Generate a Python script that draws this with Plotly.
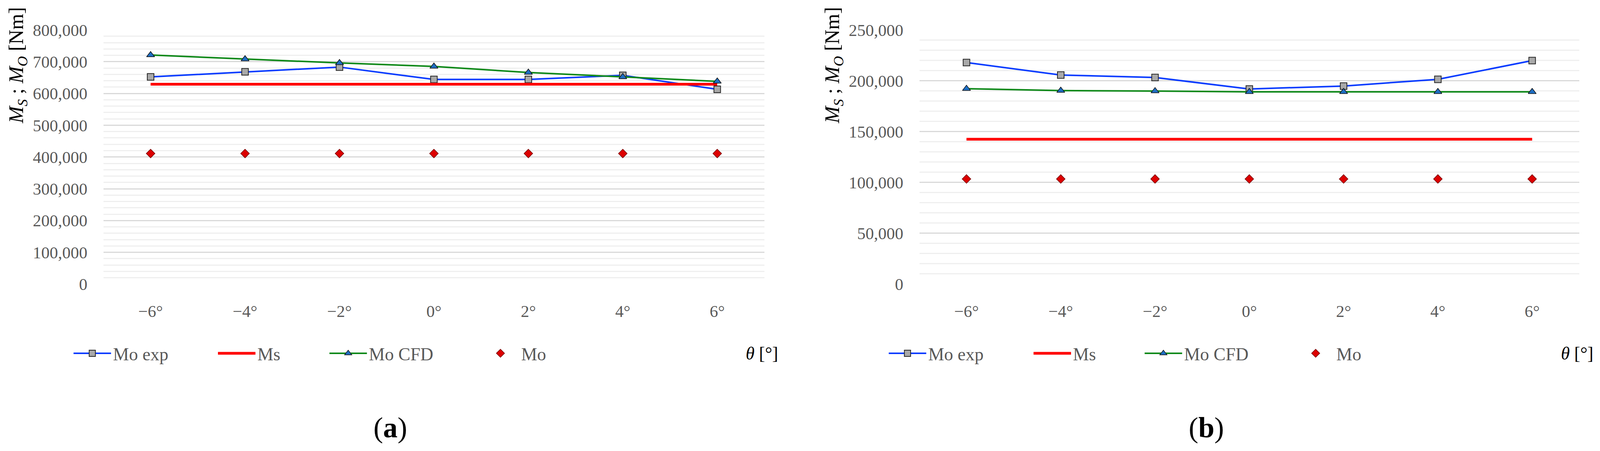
import plotly.graph_objects as go

# reference picture size; the figure itself follows the window width
W, H = 4276, 1154

# pitch angle [deg]
theta = [-6, -4, -2, 0, 2, 4, 6]
theta_labels = ["\u22126°", "\u22124°", "\u22122°", "0°", "2°", "4°", "6°"]

# panel (a)
mo_exp_a = [652000, 668000, 683000, 644000, 644000, 657000, 613000]
ms_a = [629000, 629000, 629000, 629000, 629000, 629000, 629000]
mo_cfd_a = [721000, 708000, 696000, 685000, 666000, 652000, 638000]
mo_a = [411000, 411000, 411000, 411000, 411000, 411000, 411000]

# panel (b)
mo_exp_b = [217900, 205600, 203200, 191900, 194800, 201400, 219800]
ms_b = [142500, 142500, 142500, 142500, 142500, 142500, 142500]
mo_cfd_b = [192200, 190300, 189900, 189100, 189100, 189100, 189100]
mo_b = [103400, 103400, 103400, 103400, 103400, 103400, 103400]

series_names = ["Mo exp", "Ms", "Mo CFD", "Mo"]

SERIF = "Liberation Serif"
GREY = "#595959"
BLUE = "#0a3cff"
RED = "#ff0000"
GREEN = "#10891a"


# picture pixels -> paper fractions (page body has an 8px margin)
def px(x):
    return (x - 8) / (W - 16)


def py(y):
    return 1 - (y - 8) / H


fig = go.Figure()


def add_panel(xa, ya, exp, ms, cfd, mo, legends):
    fig.add_trace(go.Scatter(
        x=theta, y=exp, name=series_names[0], mode="lines+markers",
        line=dict(color=BLUE, width=4),
        marker=dict(symbol="square", size=17, color="#a9a9a9",
                    line=dict(color="#262626", width=2)),
        xaxis=xa, yaxis=ya, legend=legends[0]))
    fig.add_trace(go.Scatter(
        x=theta, y=ms, name=series_names[1], mode="lines",
        line=dict(color=RED, width=7),
        xaxis=xa, yaxis=ya, legend=legends[1]))
    fig.add_trace(go.Scatter(
        x=theta, y=cfd, name=series_names[2], mode="lines+markers",
        line=dict(color=GREEN, width=4),
        marker=dict(symbol="triangle-up", size=18, color="#1f6fc4",
                    line=dict(color="#111111", width=1.5)),
        xaxis=xa, yaxis=ya, legend=legends[2]))
    fig.add_trace(go.Scatter(
        x=theta, y=mo, name=series_names[3], mode="markers",
        marker=dict(symbol="diamond", size=17, color="#dd0000",
                    line=dict(color="#7a0000", width=1.5)),
        xaxis=xa, yaxis=ya, legend=legends[3]))


add_panel("x", "y", mo_exp_a, ms_a, mo_cfd_a, mo_a,
          ["legend", "legend2", "legend3", "legend4"])
add_panel("x2", "y2", mo_exp_b, ms_b, mo_cfd_b, mo_b,
          ["legend5", "legend6", "legend7", "legend8"])

xaxis_common = dict(
    range=[-7, 7], tickvals=theta, ticktext=theta_labels,
    showgrid=False, zeroline=False, showline=False, ticks="",
    tickfont=dict(family=SERIF, size=43, color=GREY),
    ticklabelstandoff=40, automargin=False,
)
yaxis_common = dict(
    tickformat=",", showgrid=True, gridcolor="#d9d9d9", gridwidth=3,
    zeroline=False, showline=False, ticks="",
    tickfont=dict(family=SERIF, size=43, color=GREY),
    ticklabelstandoff=40, automargin=False,
)

plot_top, plot_bottom = py(76.5), py(727)

fig.update_layout(
    height=H, autosize=True, showlegend=True,
    margin=dict(l=0, r=0, t=0, b=0, pad=0, autoexpand=False),
    paper_bgcolor="white", plot_bgcolor="white",
    xaxis=dict(domain=[px(276), px(2043)], anchor="y", **xaxis_common),
    yaxis=dict(domain=[plot_bottom, plot_top], anchor="x",
               range=[0, 800000], dtick=100000,
               minor=dict(dtick=20000, showgrid=True, gridcolor="#efefef", gridwidth=3),
               **yaxis_common),
    xaxis2=dict(domain=[px(2457), px(4221)], anchor="y2", **xaxis_common),
    yaxis2=dict(domain=[plot_bottom, plot_top], anchor="x2",
                range=[0, 250000], dtick=50000,
                minor=dict(dtick=10000, showgrid=True, gridcolor="#efefef", gridwidth=3),
                **yaxis_common),
)

# one legend per series so every entry sits where it is in the original
legend_left = [191, 577, 875, 1282, 2370, 2757, 3054, 3461]
for i, lx in enumerate(legend_left):
    key = "legend" if i == 0 else f"legend{i + 1}"
    fig.update_layout({key: dict(
        x=px(lx), xanchor="left", y=py(904), yanchor="middle",
        orientation="h", itemwidth=96, bgcolor="rgba(0,0,0,0)",
        borderwidth=0, font=dict(family=SERIF, size=46, color=GREY),
        itemclick=False, itemdoubleclick=False, visible=True,
    )})

ytitle = "<i>M<sub>S</sub></i> ; <i>M<sub>O</sub></i> [Nm]"
for tx in [48, 2229]:
    fig.add_annotation(text=ytitle, xref="paper", yref="paper",
                       x=px(tx), y=py(167), xanchor="center", yanchor="middle",
                       textangle=-90, showarrow=False,
                       font=dict(family=SERIF, size=52, color="black"))
for cx in [2036, 4215]:
    fig.add_annotation(text="<i>θ</i> [°]", xref="paper", yref="paper",
                       x=px(cx), y=py(904), xanchor="center", yanchor="middle",
                       showarrow=False,
                       font=dict(family=SERIF, size=46, color="black"))
for cx, lab in [(1043, "a"), (3224, "b")]:
    fig.add_annotation(text=f"(<b>{lab}</b>)", xref="paper", yref="paper",
                       x=px(cx), y=py(1094), xanchor="center", yanchor="middle",
                       showarrow=False,
                       font=dict(family=SERIF, size=74, color="black"))

fig.write_html("out.html")
